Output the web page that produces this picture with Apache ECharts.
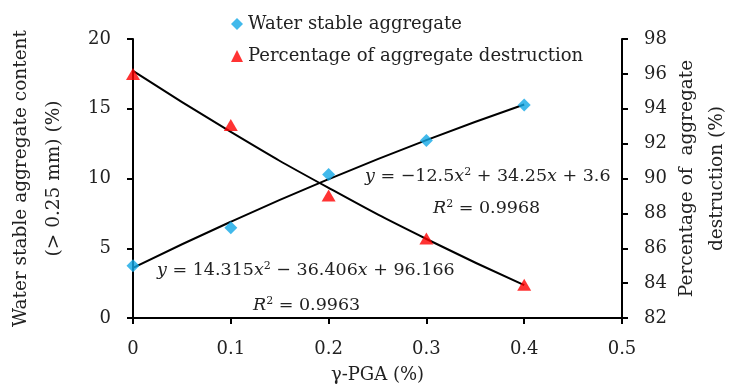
<!DOCTYPE html>
<html>
<head>
<meta charset="utf-8">
<script src="https://cdn.jsdelivr.net/npm/echarts@6/dist/echarts.min.js"></script>
<style>html,body{margin:0;padding:0;background:#fff}#c{width:730px;height:388px}</style>
</head>
<body>
<div id="c"></div>
<script>
const doses = [0, 0.1, 0.2, 0.3, 0.4];
const waterStable = [3.75, 6.47, 10.29, 12.73, 15.27];
const destruction = [96.0, 93.07, 89.03, 86.56, 83.9];
const waterTrend = [3.6, 6.9, 9.95, 12.75, 15.3];
const destructionTrend = [96.17, 92.67, 89.46, 86.53, 83.89];
const leftTicks = [0, 5, 10, 15, 20];
const rightTicks = [82, 84, 86, 88, 90, 92, 94, 96, 98];
const xTicks = [0, 0.1, 0.2, 0.3, 0.4, 0.5];

const FONT = 'DejaVu Serif';
const pairs = (xs, ys) => xs.map((x, i) => [x, ys[i]]);
const chart = echarts.init(document.getElementById('c'));
const axisLine = { show: true, lineStyle: { color: '#000', width: 2 } };
const axisTick = { show: true, inside: false, length: 6, lineStyle: { color: '#000', width: 2 } };
const labelStyle = { color: '#222', fontFamily: FONT, fontSize: 18 };
const rich = {
  i: { fontStyle: 'italic', fontFamily: FONT, fontSize: 17.5, color: '#222' },
  s: { fontFamily: FONT, fontSize: 11, color: '#222', verticalAlign: 'top', padding: [0, 0, 8, 0] }
};
function eq(left, top, text) {
  return { type: 'text', left: left, top: top, style: { text: text, fontFamily: FONT, fontSize: 17.5, fill: '#222', rich: rich } };
}
chart.setOption({
  animation: false,
  grid: { left: 133, right: 108, top: 39, bottom: 70, outerBoundsMode: 'none', containLabel: false },
  legend: {
    orient: 'vertical', left: 226, top: 10, itemGap: 14,
    itemWidth: 12, itemHeight: 12,
    textStyle: { fontFamily: FONT, fontSize: 18, color: '#222' },
    data: ['Water stable aggregate', 'Percentage of aggregate destruction']
  },
  xAxis: {
    type: 'value', min: xTicks[0], max: xTicks[xTicks.length - 1], interval: 0.1,
    axisLine: axisLine, axisTick: axisTick, splitLine: { show: false },
    axisLabel: Object.assign({ margin: 22 }, labelStyle),
    name: 'γ-PGA (%)', nameLocation: 'middle', nameGap: 48,
    nameTextStyle: { fontFamily: FONT, fontSize: 18, color: '#222' }
  },
  yAxis: [{
    type: 'value', min: leftTicks[0], max: leftTicks[leftTicks.length - 1], interval: 5,
    axisLine: axisLine, axisTick: axisTick, splitLine: { show: false },
    axisLabel: Object.assign({ margin: 22 }, labelStyle),
    name: 'Water stable aggregate content\n(> 0.25 mm) (%)', nameLocation: 'middle', nameGap: 62,
    nameMoveOverlap: false,
    nameTextStyle: { fontFamily: FONT, fontSize: 18.5, color: '#222', lineHeight: 33 }
  }, {
    type: 'value', position: 'right', min: rightTicks[0], max: rightTicks[rightTicks.length - 1], interval: 2,
    axisLine: axisLine, axisTick: axisTick, splitLine: { show: false },
    axisLabel: Object.assign({ margin: 22 }, labelStyle),
    name: 'Percentage of  aggregate\ndestruction (%)', nameLocation: 'middle', nameGap: 50, nameRotate: 90,
    nameMoveOverlap: false,
    nameTextStyle: { fontFamily: FONT, fontSize: 18.5, color: '#222', lineHeight: 30 }
  }],
  series: [
    { name: 'wtrend', type: 'line', smooth: true, yAxisIndex: 0, data: pairs(doses, waterTrend), symbol: 'none', lineStyle: { color: '#000', width: 2 }, z: 2 },
    { name: 'dtrend', type: 'line', smooth: true, yAxisIndex: 1, data: pairs(doses, destructionTrend), symbol: 'none', lineStyle: { color: '#000', width: 2 }, z: 2 },
    { name: 'Water stable aggregate', type: 'scatter', yAxisIndex: 0, data: pairs(doses, waterStable), symbol: 'diamond', symbolSize: 13, itemStyle: { color: '#12A8E6' }, z: 3 },
    { name: 'Percentage of aggregate destruction', type: 'scatter', yAxisIndex: 1, data: pairs(doses, destruction), symbol: 'triangle', symbolSize: [14, 12], itemStyle: { color: '#FF0000' }, z: 3 }
  ],
  graphic: [
    eq(365, 167, '{i|y} = −12.5{i|x}{s|2} + 34.25{i|x} + 3.6'),
    eq(433, 199, '{i|R}{s|2} = 0.9968'),
    eq(157, 261, '{i|y} = 14.315{i|x}{s|2} − 36.406{i|x} + 96.166'),
    eq(253, 296, '{i|R}{s|2} = 0.9963')
  ]
});
</script>
</body>
</html>
